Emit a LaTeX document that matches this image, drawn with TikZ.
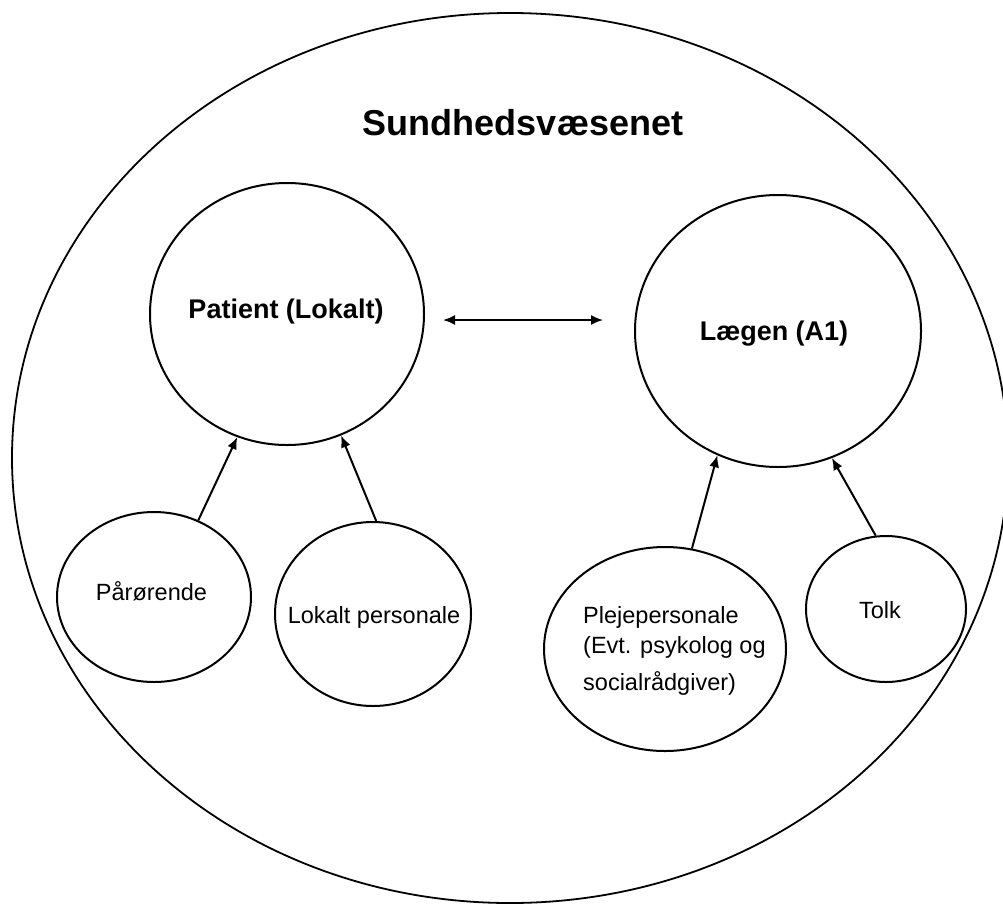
\documentclass[tikz,border=0pt]{standalone}
\usepackage{fontspec}
\setmainfont{Liberation Sans}
\usetikzlibrary{shapes.geometric,arrows.meta}
\tikzset{
  oval/.style={draw=black, line width=2pt, ellipse, inner sep=0pt},
  lbl/.style={inner sep=0pt, font=\fontsize{23.5}{28}\selectfont},
  blbl/.style={inner sep=0pt, font=\fontsize{27}{32}\selectfont\bfseries},
  conn/.style={line width=2pt, -{Latex[length=12pt,width=10pt]}},
}
\begin{document}
\begin{tikzpicture}[x=1pt,y=-1pt]
\useasboundingbox (0,0) rectangle (1003,905);
\fill[white] (0,0) rectangle (1003,905);
\begin{scope}
\clip (0,0) rectangle (1003,905);
\node[oval, line width=1.8pt, minimum width=996pt, minimum height=890pt] (sund) at (510,458) {};
\end{scope}
\node[inner sep=0pt, font=\fontsize{36}{40}\selectfont\bfseries, anchor=base] (sundt) at (523,135) {Sundhedsvæsenet};

\node[oval, minimum width=274pt, minimum height=262pt] (pat) at (287,314) {};
\node[oval, minimum width=286pt, minimum height=272pt] (lae) at (778,331) {};
\node[oval, minimum width=194pt, minimum height=170pt] (par) at (154,597) {};
\node[oval, minimum width=196pt, minimum height=184pt] (lok) at (373,614) {};
\node[oval, minimum width=242pt, minimum height=204pt] (ple) at (665,649) {};
\node[oval, minimum width=160pt, minimum height=146pt] (tol) at (886,609) {};

\node[blbl, anchor=base] (patt) at (286,318) {Patient (Lokalt)};
\node[blbl, anchor=base] (laet) at (774,340) {Lægen (A1)};
\node[lbl, anchor=base] (part) at (151.5,600) {Pårørende};
\node[lbl, anchor=base] (lokt) at (374,623) {Lokalt personale};
\node[lbl, anchor=base west] (plet1) at (583,623) {Plejepersonale};
\node[lbl, anchor=base west] (plet2) at (583,653) {(Evt. psykolog og};
\node[lbl, anchor=base west] (plet3) at (583,690) {socialrådgiver)};
\node[lbl, anchor=base] (tolt) at (880,618) {Tolk};

\draw[conn] (par.60) -- (pat.248);
\draw[conn] (lok.88) -- (pat.294);
\draw[conn] (ple.75) -- (lae.244);
\draw[conn] (tol.98) -- (lae.293);

\coordinate (d1) at (443,320);
\coordinate (d2) at (603,320);
\draw[line width=1.8pt, {Latex[length=12pt,width=10pt]}-{Latex[length=12pt,width=10pt]}] (d1) -- (d2);
\end{tikzpicture}
\end{document}
